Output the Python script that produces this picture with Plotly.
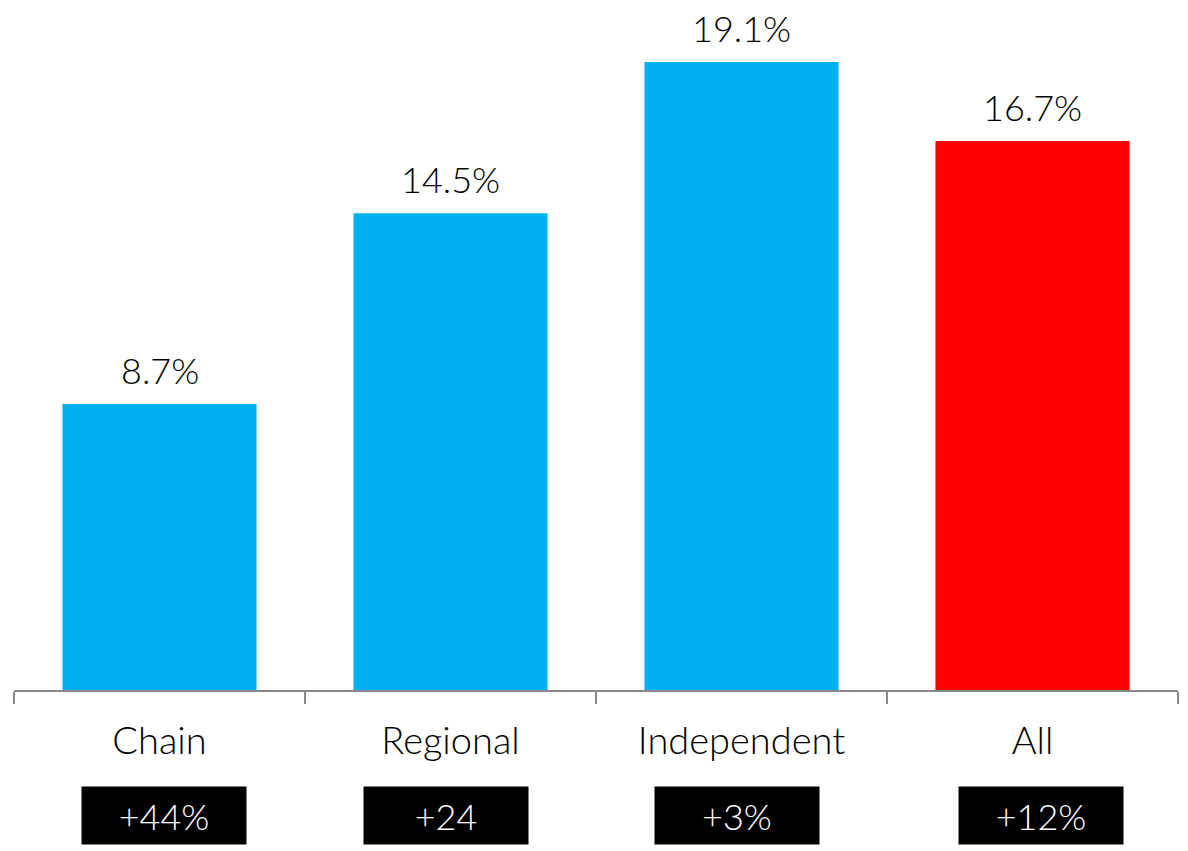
import plotly.graph_objects as go

categories = ["Chain", "Regional", "Independent", "All"]
shares = [8.7, 14.5, 19.1, 16.7]
changes = ["+44%", "+24", "+3%", "+12%"]
bar_colors = ["#00B0F0", "#00B0F0", "#00B0F0", "#FF0000"]
# small horizontal nudges (px) for the black change boxes
box_nudge = [4, -5, -5, 8]

FONT = "Lato"

fig = go.Figure(
    go.Bar(
        x=categories,
        y=shares,
        marker=dict(color=bar_colors, line=dict(width=0)),
        width=0.667,
        hoverinfo="skip",
    )
)

annotations = []
for cat, val in zip(categories, shares):
    annotations.append(dict(
        x=cat, y=val, xref="x", yref="y",
        text=f"{val}%", showarrow=False,
        yanchor="bottom", yshift=10,
        font=dict(family=FONT, size=36, color="#000000", weight=300),
    ))
for cat, chg, dx in zip(categories, changes, box_nudge):
    annotations.append(dict(
        x=cat, y=-0.1855, xref="x", yref="paper",
        text=chg, showarrow=False,
        yanchor="middle", xanchor="center", xshift=dx,
        width=164, height=57, bgcolor="#000000", borderpad=0,
        font=dict(family=FONT, size=36, color="#FFFFFF", weight=300),
    ))

fig.update_layout(
    width=1188, height=851,
    margin=dict(l=14, r=10, t=16, b=161),
    plot_bgcolor="white", paper_bgcolor="white",
    showlegend=False,
    annotations=annotations,
    xaxis=dict(
        range=[-0.5, 3.5],
        showline=True, linecolor="#898989", linewidth=2,
        ticks="outside", tickson="boundaries", ticklen=12,
        tickcolor="#898989", tickwidth=2,
        ticklabelstandoff=16,
        tickfont=dict(family=FONT, size=38, color="#000000", weight=300),
        showgrid=False,
    ),
    yaxis=dict(range=[0, 20.5], visible=False, showgrid=False),
)

fig.write_html("out.html")
